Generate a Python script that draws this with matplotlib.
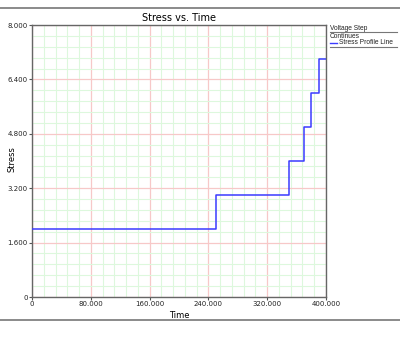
"""
plot.py
Stress profile (step stress) versus time.
"""

import matplotlib.pyplot as plt
from matplotlib.lines import Line2D
from matplotlib.ticker import MultipleLocator, FuncFormatter

# step boundaries in time and the stress held in each step
step_times = [0, 250000, 350000, 370000, 380000, 390000, 400000]
step_stress = [2.0, 3.0, 4.0, 5.0, 6.0, 7.0]

x_ticks = [0, 80000, 160000, 240000, 320000, 400000]
y_ticks = [0, 1.6, 3.2, 4.8, 6.4, 8.0]

W, H = 400, 340


def fmt_x(v, pos):
    if v == 0:
        return '0'
    return '{:,.0f}'.format(v).replace(',', '.')


def fmt_y(v, pos):
    if v == 0:
        return '0'
    return '{:.3f}'.format(v)


fig = plt.figure(figsize=(W / 100, H / 100), dpi=100)
ax = fig.add_axes([32 / W, 1 - 297 / H, 294 / W, 272 / H])

# stair-step profile
xs = [step_times[0]]
ys = [step_stress[0]]
for i, s in enumerate(step_stress):
    xs += [step_times[i], step_times[i + 1]]
    ys += [s, s]
ax.plot(xs, ys, color='#3b3bff', lw=1.1, zorder=3)

ax.set_xlim(0, 400000)
ax.set_ylim(0, 8)
ax.set_xticks(x_ticks)
ax.set_yticks(y_ticks)
ax.xaxis.set_minor_locator(MultipleLocator(16000))
ax.yaxis.set_minor_locator(MultipleLocator(0.32))
ax.xaxis.set_major_formatter(FuncFormatter(fmt_x))
ax.yaxis.set_major_formatter(FuncFormatter(fmt_y))

ax.grid(which='minor', color='#ddf8dd', lw=0.8)
ax.grid(which='major', color='#f7c8c8', lw=0.9)
ax.set_axisbelow(True)

ax.tick_params(which='major', labelsize=5, length=2, width=0.8, pad=1,
               colors='#555555', labelcolor='#222222')
ax.tick_params(which='minor', length=0)
for sp in ax.spines.values():
    sp.set_color('#666666')
    sp.set_linewidth(1.0)

ax.set_title('Stress vs. Time', fontsize=7, pad=3)
ax.set_xlabel('Time', fontsize=6, labelpad=3)
fig.text(12 / W, 1 - 159 / H, 'Stress', fontsize=6, rotation=90,
         ha='center', va='center')

# frame lines across the whole figure
fig.add_artist(Line2D([0, 1], [1 - 8 / H, 1 - 8 / H], color='#777777', lw=1.2))
fig.add_artist(Line2D([0, 1], [1 - 320 / H, 1 - 320 / H], color='#777777', lw=1.2))

# legend drawn by hand
lx = 330 / W
lfont = dict(fontsize=4.8, family='Liberation Sans', va='center', color='#222222')
fig.text(lx, 1 - 28 / H, 'Voltage Step', **lfont)
fig.add_artist(Line2D([lx, 397 / W], [1 - 31.5 / H, 1 - 31.5 / H], color='#777777', lw=0.8))
fig.text(lx, 1 - 36 / H, 'Continues', **lfont)
fig.add_artist(Line2D([lx, 337 / W], [1 - 42.5 / H, 1 - 42.5 / H], color='#3b3bff', lw=1.0))
fig.text(339 / W, 1 - 42 / H, 'Stress Profile Line', **lfont)
fig.add_artist(Line2D([lx, 397 / W], [1 - 46.5 / H, 1 - 46.5 / H], color='#777777', lw=0.8))

fig.savefig('out.png', dpi=100)
